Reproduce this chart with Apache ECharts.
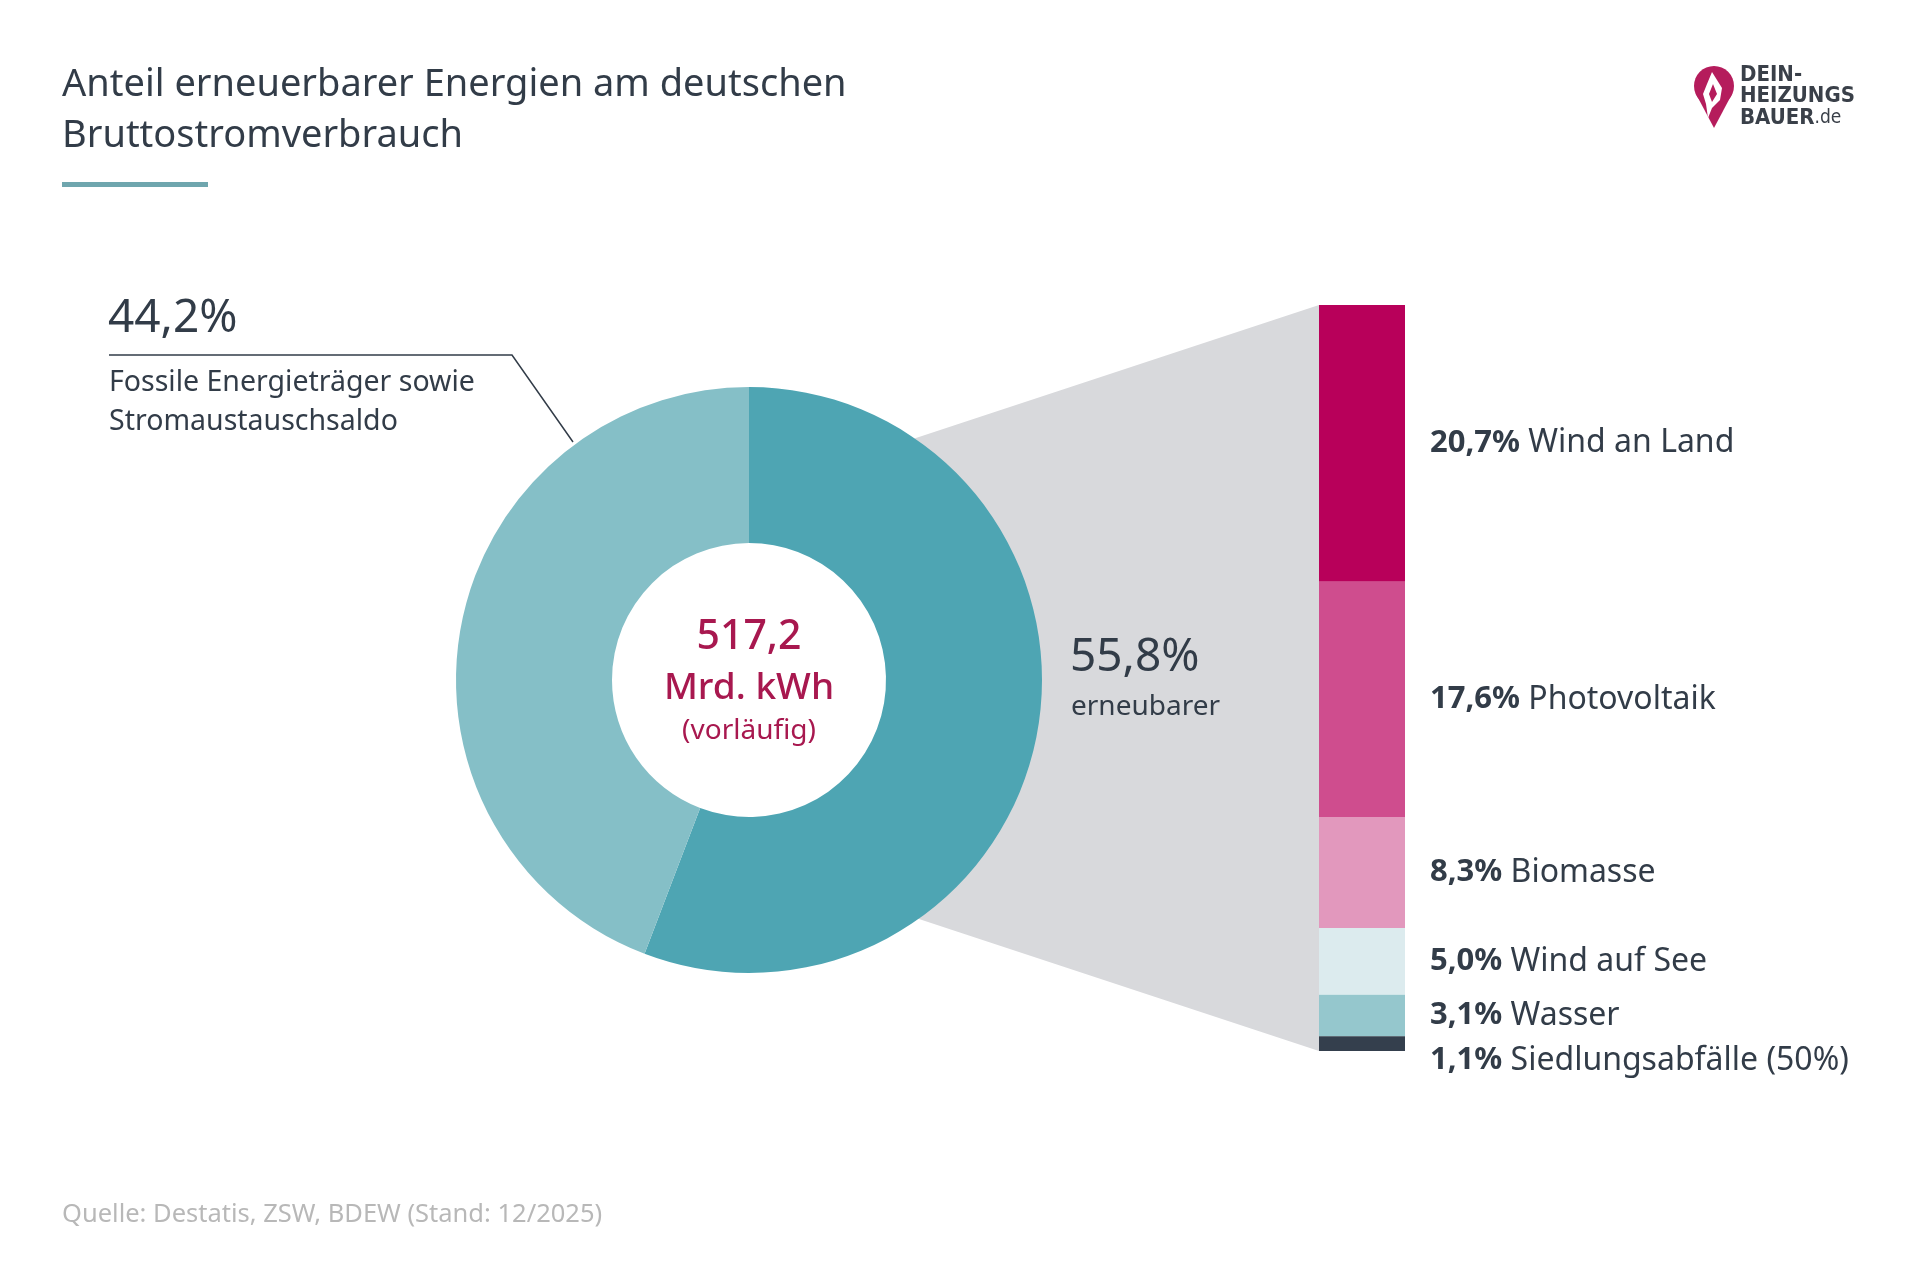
<!DOCTYPE html>
<html>
<head>
<meta charset="utf-8">
<script src="https://cdn.jsdelivr.net/npm/echarts@6/dist/echarts.min.js"></script>
<style>
  html, body { margin: 0; padding: 0; background: #fff; }
  #chart { width: 1920px; height: 1280px; }
</style>
</head>
<body>
<div id="chart"></div>
<script>
  // donut: renewable vs fossil
  const shareNames = ['erneubarer', 'Fossile Energieträger sowie Stromaustauschsaldo'];
  const shareValues = [55.8, 44.2];
  const shareColors = ['#4ea5b3', '#85bfc7'];

  // renewable breakdown (stacked bar)
  const sources = ['Wind an Land', 'Photovoltaik', 'Biomasse', 'Wind auf See', 'Wasser', 'Siedlungsabfälle (50%)'];
  const sourceValues = [20.7, 17.6, 8.3, 5.0, 3.1, 1.1];
  const sourceColors = ['#b8005a', '#cf4d8e', '#e298bd', '#dcebee', '#95c7cd', '#343f4d'];

  const totalLabel = ['517,2', 'Mrd. kWh', '(vorläufig)'];

  const FONT = '"Noto Sans", "Open Sans", sans-serif';
  const DARK = '#323c48';
  const fmt = v => v.toFixed(1).replace('.', ',') + '%';

  // layout
  const pieC = [749, 680], rIn = 137, rOut = 293;
  const bar = { left: 1319, top: 305, width: 86, height: 746 };

  let myChart = echarts.init(document.getElementById('chart'));
  const total = sourceValues.reduce((a, b) => a + b, 0);

  const barSeries = sources.map((name, i) => ({
    type: 'bar',
    name: name,
    stack: 'ee',
    barWidth: '100%',
    silent: true,
    itemStyle: { color: sourceColors[i] },
    label: {
      show: true,
      position: 'right',
      distance: 25,
      offset: i === sources.length - 1 ? [0, 17] : [0, 0],
      formatter: () => '{b|' + fmt(sourceValues[i]) + '}{n| ' + name + '}',
      rich: {
        b: { fontFamily: FONT, fontSize: 31, fontWeight: 'bold', color: DARK },
        n: { fontFamily: FONT, fontSize: 32, color: DARK }
      }
    },
    data: [sourceValues[i]]
  }));

  // gray funnel between donut ring and bar (left edge hidden inside the ring)
  const slope = 0.33;
  const fx = pieC[0] + 151;
  const funnel = [
    [fx, bar.top + slope * (bar.left - fx)],
    [bar.left, bar.top],
    [bar.left, bar.top + bar.height],
    [fx, bar.top + bar.height - slope * (bar.left - fx)]
  ];

  let option = {
    animation: false,
    backgroundColor: '#ffffff',
    grid: { left: bar.left, top: bar.top, width: bar.width, height: bar.height },
    xAxis: { type: 'category', data: ['EE'], show: false },
    yAxis: { type: 'value', inverse: true, min: 0, max: total, show: false },
    series: [{
      type: 'pie',
      center: pieC,
      radius: [rIn, rOut],
      startAngle: 90,
      clockwise: true,
      silent: true,
      label: { show: false },
      labelLine: { show: false },
      data: shareNames.map((n, i) => ({ name: n, value: shareValues[i], itemStyle: { color: shareColors[i] } }))
    }].concat(barSeries),
    graphic: [
      { type: 'polygon', z: -10, shape: { points: funnel }, style: { fill: '#d8d9dc' } },
      // title
      { type: 'text', x: 62, y: 60, style: { text: 'Anteil erneuerbarer Energien am deutschen\nBruttostromverbrauch', font: '38px ' + FONT, fill: DARK, lineHeight: 51 } },
      { type: 'rect', shape: { x: 62, y: 182, width: 146, height: 5 }, style: { fill: '#6fa6ae' } },
      // left annotation
      { type: 'text', x: 108, y: 296, style: { text: fmt(shareValues[1]), font: '46px ' + FONT, fill: DARK } },
      { type: 'polyline', shape: { points: [[109, 355], [512, 355], [573, 442]] }, style: { stroke: DARK, lineWidth: 1.5, fill: null } },
      { type: 'text', x: 109, y: 363, style: { text: 'Fossile Energieträger sowie\nStromaustauschsaldo', font: '28.5px ' + FONT, fill: DARK, lineHeight: 39 } },
      // centre
      { type: 'text', x: pieC[0], y: 637, style: { text: totalLabel[0], font: '500 41px ' + FONT, fill: '#a8184f', align: 'center', verticalAlign: 'middle' } },
      { type: 'text', x: pieC[0], y: 688, style: { text: totalLabel[1], font: '500 37px ' + FONT, fill: '#a8184f', align: 'center', verticalAlign: 'middle' } },
      { type: 'text', x: pieC[0], y: 731, style: { text: totalLabel[2], font: '28px ' + FONT, fill: '#a8184f', align: 'center', verticalAlign: 'middle' } },
      // renewable share
      { type: 'text', x: 1070, y: 658, style: { text: fmt(shareValues[0]), font: '46px ' + FONT, fill: DARK, verticalAlign: 'middle' } },
      { type: 'text', x: 1071, y: 707, style: { text: shareNames[0], font: '28px ' + FONT, fill: DARK, verticalAlign: 'middle' } },
      // source
      { type: 'text', x: 62, y: 1215, style: { text: 'Quelle: Destatis, ZSW, BDEW (Stand: 12/2025)', font: '25.5px ' + FONT, fill: '#b8b8b8', verticalAlign: 'middle' } },
      // logo
      { type: 'circle', shape: { cx: 1714, cy: 86, r: 20 }, style: { fill: '#b51c5c' } },
      { type: 'polygon', shape: { points: [[1696, 94], [1732, 94], [1714, 128]] }, style: { fill: '#b51c5c' } },
      { type: 'polygon', shape: { points: [[1712, 72], [1722, 88], [1720, 100], [1712, 108], [1708, 118], [1706, 104], [1703, 94], [1707, 84]] }, style: { fill: '#ffffff' } },
      { type: 'polygon', shape: { points: [[1713, 84], [1717, 94], [1712, 102], [1709, 94]] }, style: { fill: '#b51c5c' } },
      { type: 'text', x: 1740, y: 65, style: { text: 'DEIN-\nHEIZUNGS', font: 'bold 22px "DejaVu Sans Condensed", "DejaVu Sans", sans-serif', fill: '#3a4049', lineHeight: 21 } },
      { type: 'text', x: 1740, y: 107, style: { text: '{a|BAUER}{b|.de}', rich: {
        a: { fontFamily: '"DejaVu Sans Condensed", sans-serif', fontWeight: 'bold', fontSize: 22, fill: '#3a4049' },
        b: { fontFamily: '"DejaVu Sans Condensed", sans-serif', fontSize: 19, fill: '#3a4049' } } } }
    ]
  };

  myChart.setOption(option);
</script>
</body>
</html>
